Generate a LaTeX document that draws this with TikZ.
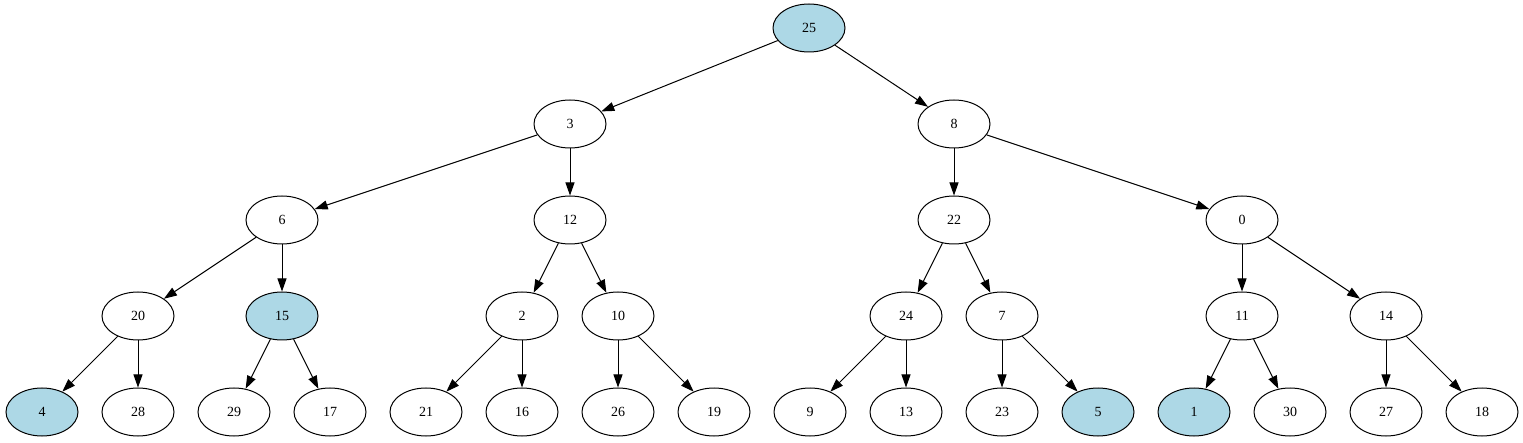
\documentclass[tikz,border=0pt]{standalone}
\usepackage{fontspec}
\setmainfont{Liberation Serif}
\usetikzlibrary{shapes.geometric,arrows.meta}
\definecolor{lblue}{HTML}{ADD8E6}
\tikzset{
  nd/.style={ellipse,draw=black,line width=1pt,minimum width=72pt,minimum height=48pt,inner sep=0pt,font=\fontsize{14}{16}\selectfont,fill=white},
  hl/.style={nd,fill=lblue},
  ed/.style={line width=1pt,-{Triangle[length=13pt,width=9pt]}}
}
\begin{document}
\begin{tikzpicture}[x=1pt,y=-1pt]
\useasboundingbox (0,0) rectangle (1523,443);
% row 0
\node[hl] (n25) at (809,28) {25};
% row 1
\node[nd] (n3) at (570,124) {3};
\node[nd] (n8) at (954,124) {8};
% row 2
\node[nd] (n6) at (282,220) {6};
\node[nd] (n12) at (570,220) {12};
\node[nd] (n22) at (954,220) {22};
\node[nd] (n0) at (1242,220) {0};
% row 3
\node[nd] (n20) at (138,316) {20};
\node[hl] (n15) at (282,316) {15};
\node[nd] (n2) at (522,316) {2};
\node[nd] (n10) at (618,316) {10};
\node[nd] (n24) at (906,316) {24};
\node[nd] (n7) at (1002,316) {7};
\node[nd] (n11) at (1242,316) {11};
\node[nd] (n14) at (1386,316) {14};
% row 4
\node[hl] (n4) at (42,412) {4};
\node[nd] (n28) at (138,412) {28};
\node[nd] (n29) at (234,412) {29};
\node[nd] (n17) at (330,412) {17};
\node[nd] (n21) at (426,412) {21};
\node[nd] (n16) at (522,412) {16};
\node[nd] (n26) at (618,412) {26};
\node[nd] (n19) at (714,412) {19};
\node[nd] (n9) at (810,412) {9};
\node[nd] (n13) at (906,412) {13};
\node[nd] (n23) at (1002,412) {23};
\node[hl] (n5) at (1098,412) {5};
\node[hl] (n1) at (1194,412) {1};
\node[nd] (n30) at (1290,412) {30};
\node[nd] (n27) at (1386,412) {27};
\node[nd] (n18) at (1482,412) {18};
% edges
\draw[ed] (n25) -- (n3);
\draw[ed] (n25) -- (n8);
\draw[ed] (n3) -- (n6);
\draw[ed] (n3) -- (n12);
\draw[ed] (n8) -- (n22);
\draw[ed] (n8) -- (n0);
\draw[ed] (n6) -- (n20);
\draw[ed] (n6) -- (n15);
\draw[ed] (n12) -- (n2);
\draw[ed] (n12) -- (n10);
\draw[ed] (n22) -- (n24);
\draw[ed] (n22) -- (n7);
\draw[ed] (n0) -- (n11);
\draw[ed] (n0) -- (n14);
\draw[ed] (n20) -- (n4);
\draw[ed] (n20) -- (n28);
\draw[ed] (n15) -- (n29);
\draw[ed] (n15) -- (n17);
\draw[ed] (n2) -- (n21);
\draw[ed] (n2) -- (n16);
\draw[ed] (n10) -- (n26);
\draw[ed] (n10) -- (n19);
\draw[ed] (n24) -- (n9);
\draw[ed] (n24) -- (n13);
\draw[ed] (n7) -- (n23);
\draw[ed] (n7) -- (n5);
\draw[ed] (n11) -- (n1);
\draw[ed] (n11) -- (n30);
\draw[ed] (n14) -- (n27);
\draw[ed] (n14) -- (n18);
\end{tikzpicture}
\end{document}
